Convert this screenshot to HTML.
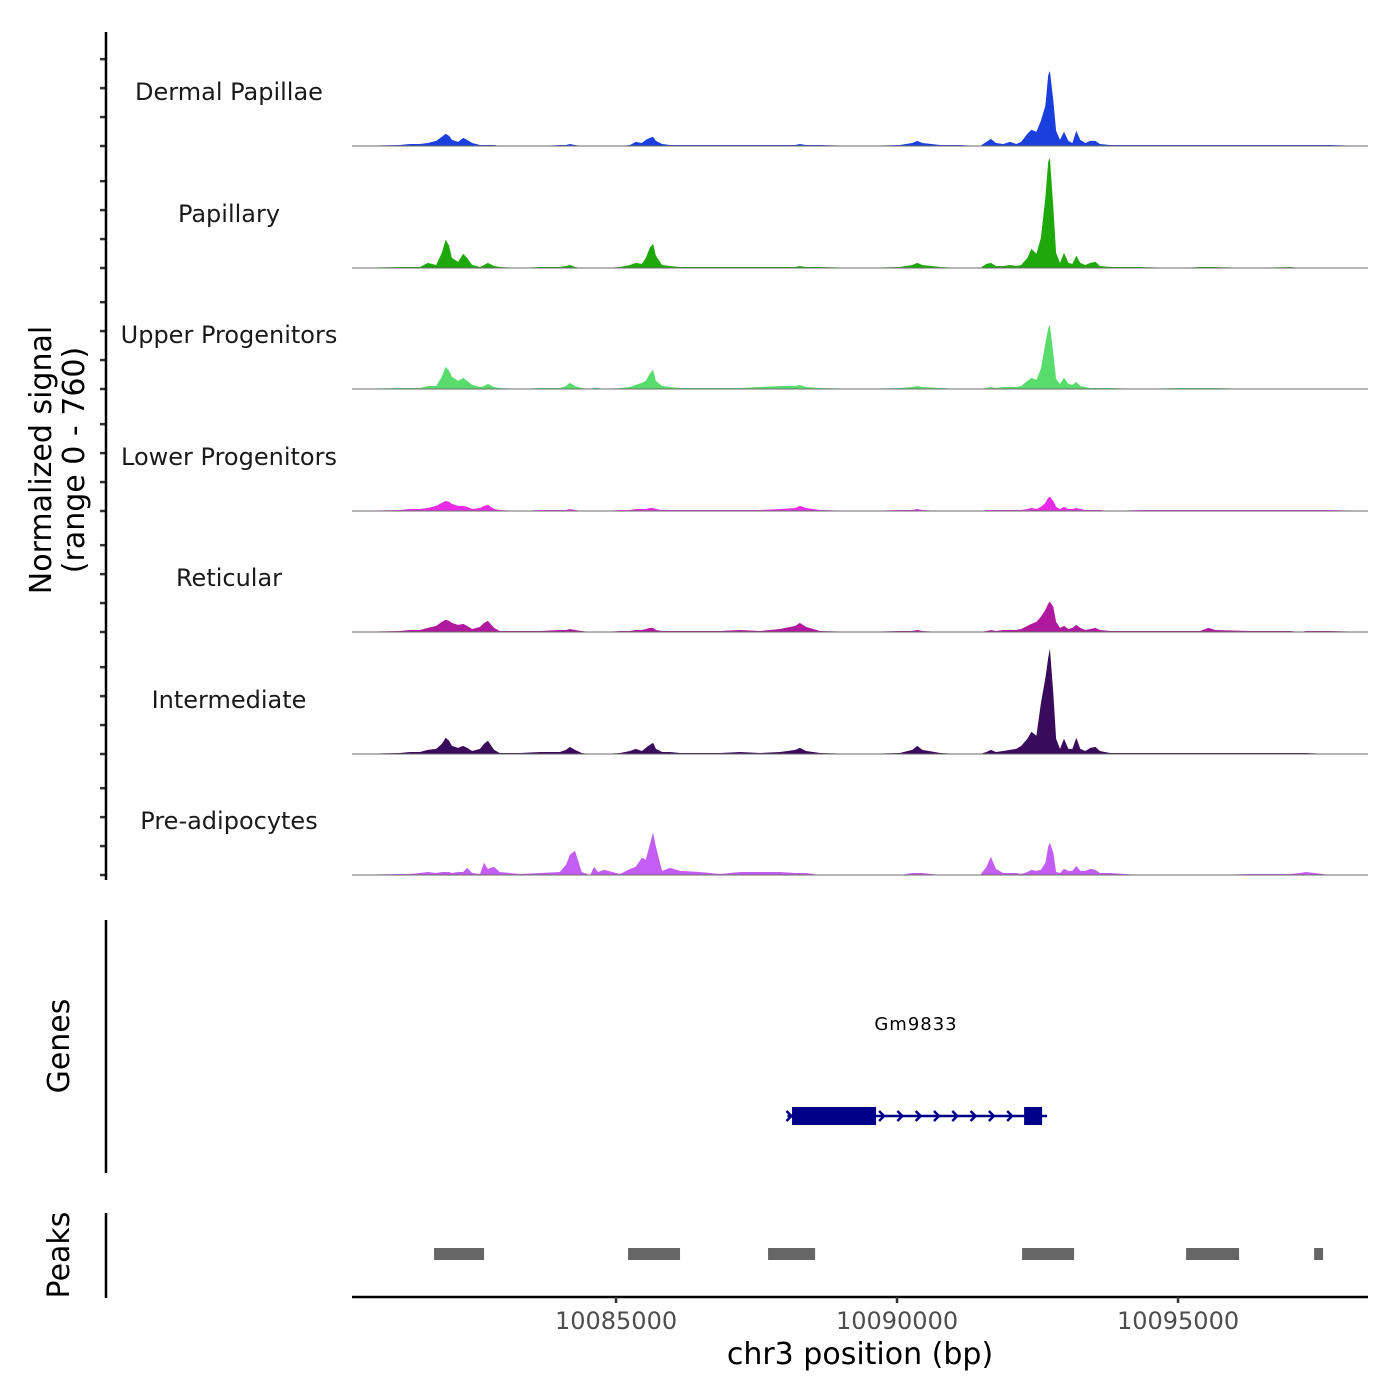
<!DOCTYPE html>
<html><head><meta charset="utf-8">
<style>
html,body{margin:0;padding:0;background:#fff;}
svg{display:block;font-family:"DejaVu Sans","Liberation Sans",sans-serif;}
</style></head>
<body>
<svg id="chart" width="1400" height="1400" viewBox="0 0 1400 1400" xmlns="http://www.w3.org/2000/svg">
<g id="tracks"></g>
<g id="genes"></g>
<g id="peaks"></g>
<g id="axes"></g>
</svg>
<script>
const positions = [10080300,10081150,10081330,10081510,10081650,10081800,10081900,10081970,10082030,10082080,10082190,10082280,10082350,10082440,10082580,10082650,10082720,10082830,10082930,10083290,10083650,10084000,10084110,10084180,10084270,10084390,10084540,10084610,10084680,10084790,10085070,10085250,10085350,10085460,10085530,10085600,10085660,10085710,10085820,10085960,10086140,10086490,10086850,10087210,10087560,10087920,10088190,10088270,10088380,10088630,10089340,10090050,10090270,10090360,10090450,10090770,10091120,10091480,10091590,10091670,10091760,10091890,10092010,10092120,10092210,10092320,10092390,10092480,10092560,10092640,10092690,10092720,10092780,10092830,10092900,10092970,10093050,10093120,10093190,10093260,10093350,10093440,10093530,10093610,10093790,10094330,10095040,10095390,10095540,10095660,10096280,10097000,10097170,10097280,10097710,10098380];
const trackNames = ["Dermal Papillae","Papillary","Upper Progenitors","Lower Progenitors","Reticular","Intermediate","Pre-adipocytes"];
const trackColors = ["#1a3fdc","#1fa80a","#58dc6c","#e82ce6","#b0189e","#3a0a5c","#c45cf6"];
const dermal = [0,7,14,14,21,35,63,84,70,42,28,56,42,21,7,7,7,7,0,0,0,7,7,14,7,0,0,0,0,0,0,7,28,21,42,56,63,35,14,7,7,7,7,7,7,7,7,14,7,7,0,7,21,35,21,7,7,0,28,49,21,14,28,14,28,84,112,98,175,280,490,518,315,105,42,98,35,21,105,42,21,35,35,14,7,7,7,7,7,7,7,7,7,7,7,0];
const papillary = [0,7,7,7,35,21,105,196,154,70,42,98,70,21,7,21,35,14,7,0,7,7,14,21,7,0,0,0,0,0,7,21,35,28,70,140,168,84,21,14,7,7,7,7,7,7,7,14,7,7,0,7,21,35,21,7,0,0,28,35,14,14,21,14,21,70,133,98,210,490,735,760,420,105,35,105,35,28,84,35,21,35,42,14,7,7,0,7,7,7,0,7,0,0,0,0];
const upper = [0,7,7,7,21,21,84,154,126,84,56,77,56,28,14,21,35,14,7,0,7,7,21,42,21,7,0,7,7,0,7,14,28,42,56,105,133,56,21,14,7,7,7,7,14,21,21,28,14,7,0,7,14,21,14,7,0,0,7,14,7,14,14,14,21,56,77,63,140,315,420,441,245,70,35,77,35,28,49,21,14,7,7,7,7,0,7,7,7,7,0,0,0,0,0,0];
const lower = [0,7,14,14,21,35,56,70,63,49,35,35,28,14,21,35,42,14,7,0,7,7,7,14,7,0,0,0,0,0,7,7,14,14,14,21,21,14,7,7,7,7,7,7,7,14,21,35,21,7,0,7,7,14,7,0,0,0,7,7,7,7,7,7,7,14,21,14,28,56,91,98,70,28,14,28,14,14,21,14,7,7,7,7,0,7,7,7,7,7,7,7,7,7,7,0];
const reticular = [0,7,14,14,28,42,70,84,77,63,49,56,42,21,35,63,77,28,7,7,7,14,14,21,14,7,0,0,0,0,7,7,14,14,21,28,28,14,7,7,7,7,7,14,7,21,42,63,35,7,0,7,7,14,7,0,0,0,7,14,7,14,14,14,21,42,56,70,105,154,196,210,175,70,28,42,21,28,49,28,14,21,28,14,7,7,7,7,28,14,7,7,0,7,7,0];
const intermediate = [0,7,14,14,28,35,70,112,91,56,42,56,42,21,35,70,91,28,7,7,14,14,28,49,28,7,0,0,0,0,7,21,35,21,42,63,77,35,14,14,7,7,7,14,7,14,28,42,21,7,0,7,28,56,28,7,0,0,14,28,14,21,28,35,56,105,154,126,350,525,665,728,420,105,35,105,35,35,112,35,21,42,49,21,7,7,7,7,7,7,7,7,7,7,0,0];
const preadipocytes = [0,7,7,14,21,14,21,21,21,14,21,21,49,14,7,84,42,56,21,7,14,21,70,140,168,21,0,56,21,35,7,42,56,119,105,210,294,196,28,49,28,21,7,21,21,21,14,14,14,0,0,0,14,14,14,0,0,0,56,126,42,14,14,14,7,21,35,28,35,84,196,224,154,21,14,42,28,28,63,28,28,42,35,14,14,0,0,0,0,0,7,7,14,21,0,0];
const seriesList = [dermal,papillary,upper,lower,reticular,intermediate,preadipocytes];
const yMax = 760;
const yTicks = [0,200,400,600];
const xTicks = [10085000,10090000,10095000];
const geneName = "Gm9833";
const geneStart = 10088050, geneEnd = 10092670;
const exonStarts = [10088132,10092261];
const exonEnds = [10089627,10092581];
const peakStarts = [10081762,10085214,10087705,10092225,10095143,10097421];
const peakEnds = [10082652,10086139,10088542,10093150,10096086,10097581];

const NS="http://www.w3.org/2000/svg";
const X0=352,X1=1368,BPMIN=10080302,BPMAX=10098380;
const xs = bp => X0 + (bp-BPMIN)/(BPMAX-BPMIN)*(X1-X0);
const baselines=[146,268,389,511,632,754,875];
const trackPx=110;
const ys = (v,b) => b - v/yMax*trackPx;
function mk(tag,attrs,parent){const e=document.createElementNS(NS,tag);for(const k in attrs)e.setAttribute(k,attrs[k]);parent.appendChild(e);return e;}
const gT=document.getElementById('tracks'),gG=document.getElementById('genes'),gP=document.getElementById('peaks'),gA=document.getElementById('axes');

seriesList.forEach((vals,i)=>{
  const b=baselines[i];
  let d='M'+xs(positions[0]).toFixed(1)+','+b;
  vals.forEach((v,j)=>{d+=' L'+xs(positions[j]).toFixed(1)+','+ys(v,b).toFixed(1);});
  d+=' L'+xs(positions[positions.length-1]).toFixed(1)+','+b+' Z';
  const p=mk('path',{d:d,fill:trackColors[i],stroke:'none'},gT);
  
  
  const ln=mk('line',{x1:X0,x2:X1,y1:b,y2:b,stroke:'#6b6b6b','stroke-width':1},gT);
  
  
  const t=mk('text',{x:229,y:b-46,'text-anchor':'middle','font-size':24,fill:'#1a1a1a'},gT);
  t.textContent=trackNames[i];
  
  
  yTicks.forEach(tv=>{
    const tk=mk('line',{x1:100,x2:106,y1:ys(tv,b),y2:ys(tv,b),stroke:'#333','stroke-width':2.5},gA);
    
    
  });
});

[[32,880],[920,1173],[1213,1298]].forEach(([a,c])=>{
  const l=mk('line',{x1:106,x2:106,y1:a,y2:c,stroke:'#000','stroke-width':2.5},gA);
  
  
});
const xl=mk('line',{x1:X0,x2:X1,y1:1297,y2:1297,stroke:'#000','stroke-width':2.5},gA);


xTicks.forEach(tv=>{
  const tk=mk('line',{x1:xs(tv),x2:xs(tv),y1:1297,y2:1303,stroke:'#333','stroke-width':2.5},gA);
  
  
  const t=mk('text',{x:xs(tv),y:1329,'text-anchor':'middle','font-size':24,fill:'#4d4d4d'},gA);
  t.textContent=String(tv);
  
  
});
const xt=mk('text',{x:860,y:1364,'text-anchor':'middle','font-size':30,fill:'#000'},gA);
xt.textContent='chr3 position (bp)';


const yt=mk('text',{transform:'translate(53,460) rotate(-90)','text-anchor':'middle','font-size':30,fill:'#000'},gA);


const ts1=mk('tspan',{x:0,dy:-2},yt);ts1.textContent='Normalized signal';
const ts2=mk('tspan',{x:0,dy:33},yt);ts2.textContent='(range 0 - 760)';
const gt=mk('text',{transform:'translate(69,1046) rotate(-90)','text-anchor':'middle','font-size':30,fill:'#000'},gA);
gt.textContent='Genes';


const pt=mk('text',{transform:'translate(69,1255) rotate(-90)','text-anchor':'middle','font-size':30,fill:'#000'},gA);
pt.textContent='Peaks';



const gl=mk('text',{x:916,y:1030,'text-anchor':'middle','font-size':18,fill:'#000','letter-spacing':'1'},gG);
gl.textContent=geneName;


const gline=mk('line',{x1:xs(geneStart),x2:xs(geneEnd),y1:1116,y2:1116,stroke:'#00008b','stroke-width':2.5},gG);


const chevX=[xs(geneStart)+2];
for(let x=xs(exonEnds[0])+6;x<xs(exonStarts[1])-4;x+=18.3)chevX.push(x);
chevX.forEach(x=>{
  const c=mk('path',{d:`M${x-3},1111 L${x+2},1116 L${x-3},1121`,fill:'none',stroke:'#00008b','stroke-width':2.5},gG);
  
  
});
exonStarts.forEach((s,i)=>{
  const r=mk('rect',{x:xs(s),y:1107,width:xs(exonEnds[i])-xs(s),height:18,fill:'#00008b'},gG);
  
  
});
peakStarts.forEach((s,i)=>{
  const r=mk('rect',{x:xs(s),y:1248,width:xs(peakEnds[i])-xs(s),height:12,fill:'#666'},gP);
  
  
});
</script>
</body></html>
